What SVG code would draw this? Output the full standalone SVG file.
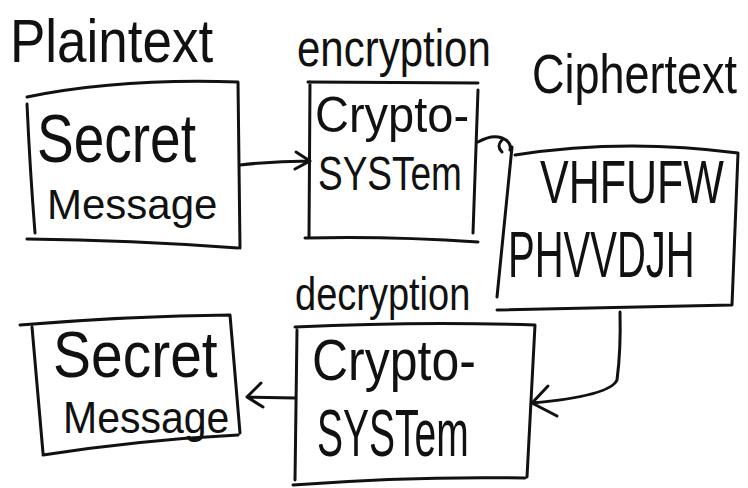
<svg xmlns="http://www.w3.org/2000/svg" width="748" height="488" viewBox="0 0 748 488">
  <style>
    .ink { fill: none; stroke: #111; stroke-width: 3; stroke-linecap: round; stroke-linejoin: round; }
    .hand { font-family: "Liberation Sans", "DejaVu Sans", sans-serif; fill: #111; }
  </style>
  <rect width="748" height="488" fill="#fff"/>

  <!-- plaintext box -->
  <g id="plaintext">
    <text class="hand" transform="translate(10 62) scale(1 1.15)" font-size="53">Plaintext</text>
    <path class="ink" d="M27 97 Q120 78 238 82 L240 248 M27 104 Q30 170 35 233 M27 239 Q130 240 238 248"/>
    <text class="hand" transform="translate(37 162) scale(1 1.25)" font-size="55">Secret</text>
    <text class="hand" transform="translate(47 219) scale(1 1.0)" font-size="42">Message</text>
  </g>

  <!-- encryption box -->
  <g id="encryption">
    <text class="hand" transform="translate(297 66) scale(1 1.25)" font-size="42">encryption</text>
    <path class="ink" d="M308 82 L478 83 M310 82 L309 237 M305 238 Q390 236 478 242 M478 90 L473 233"/>
    <text class="hand" transform="translate(315 132) scale(1 1.05)" font-size="47">Crypto-</text>
    <text class="hand" transform="translate(318 190) scale(1 1.3)" font-size="37">SYSTem</text>
  </g>

  <!-- ciphertext box -->
  <g id="ciphertext">
    <text class="hand" transform="translate(532 93) scale(1 1.25)" font-size="45">Ciphertext</text>
    <path class="ink" d="M515 155 Q623 138 738 153 L732 305 M512 147 L497 297 M497 310 L732 305"/>
    <text class="hand" transform="translate(540 203) scale(1 1.4)" font-size="43">VHFUFW</text>
    <text class="hand" transform="translate(508 277) scale(1 1.6)" font-size="40">PHVVDJH</text>
  </g>

  <!-- decryption box -->
  <g id="decryption">
    <text class="hand" transform="translate(295 310) scale(1 1.2)" font-size="38">decryption</text>
    <path class="ink" d="M295 327 Q420 321 535 325 L527 477 M297 330 L295 480 M293 485 Q410 476 525 478"/>
    <text class="hand" transform="translate(312 380) scale(1 1.15)" font-size="50">Crypto-</text>
    <text class="hand" transform="translate(317 456) scale(1 1.7)" font-size="39">SYSTem</text>
  </g>

  <!-- recovered message box -->
  <g id="message-out">
    <path class="ink" d="M20 325 Q130 316 230 315 L240 433 M32 327 L43 453 M43 455 Q140 440 238 435"/>
    <text class="hand" transform="translate(53 377) scale(1 1.15)" font-size="57">Secret</text>
    <text class="hand" transform="translate(63 433) scale(1 1.1)" font-size="41">Message</text>
  </g>

  <!-- connectors -->
  <g id="connectors">
    <path class="ink" d="M240 165 Q275 161 310 161 M296 152 L310 161 L295 169"/>
    <path class="ink" d="M478 142 Q492 134 502 138 Q512 142 510 150 M502 140 Q496 146 502 152"/>
    <path class="ink" d="M620 312 Q621 350 617 380 Q610 396 532 403 M548 386 L532 403 L557 416"/>
    <path class="ink" d="M295 398 L247 397 M261 383 L247 397 L263 407"/>
  </g>
</svg>
